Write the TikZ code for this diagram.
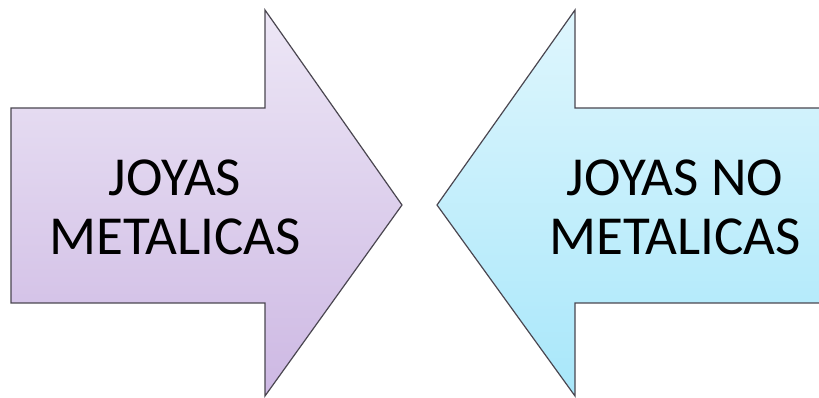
\documentclass[tikz,border=0pt]{standalone}
\usepackage{fontspec}
\setmainfont{Carlito}
\definecolor{ptop}{HTML}{EDE7F6}
\definecolor{pbot}{HTML}{CDB8E3}
\definecolor{ctop}{HTML}{DFF6FD}
\definecolor{cbot}{HTML}{A8E7FA}
\definecolor{edge}{HTML}{4A4650}
\tikzset{
  arrowshape/.style={draw=edge, line width=1.2pt, line join=miter},
  lbl/.style={align=center, font=\fontsize{55}{59}\selectfont, text=black, inner sep=0pt}
}
\begin{document}
\begin{tikzpicture}[x=1pt,y=1pt]
\useasboundingbox (0,0) rectangle (819,398);
\path[arrowshape, top color=ptop, bottom color=pbot]
  (11,95) -- (11,290) -- (265,290) -- (265,388) -- (402,193) -- (265,2) -- (265,95) -- cycle;
\path[arrowshape, top color=ctop, bottom color=cbot]
  (437,193) -- (575,388) -- (575,290) -- (820,290) -- (820,95) -- (575,95) -- (575,2) -- cycle;
\node[lbl] (left) at (175,191) {JOYAS\\METALICAS};
\node[lbl] (right) at (675,191) {JOYAS NO\\METALICAS};
\end{tikzpicture}
\end{document}
